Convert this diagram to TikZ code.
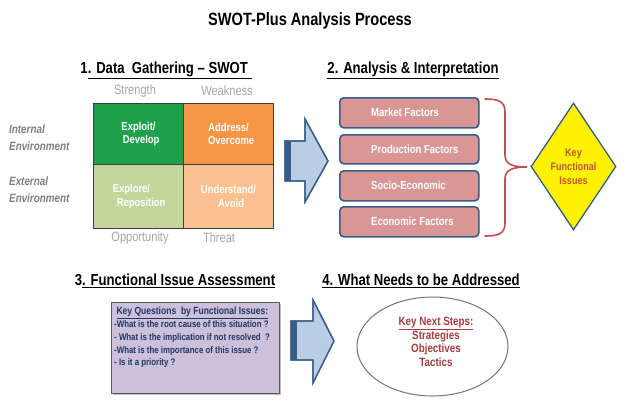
\documentclass[tikz,border=0pt]{standalone}
\usepackage{fontspec}
\setmainfont{Liberation Sans}
\newfontfamily\nar[FakeStretch=0.82]{Liberation Sans}
\usetikzlibrary{shapes.geometric}
\newcommand\myul[1]{\underline{#1}}
\definecolor{dkgreen}{HTML}{21A04B}
\definecolor{orng}{HTML}{F79646}
\definecolor{ltgreen}{HTML}{C3D69B}
\definecolor{ltorng}{HTML}{FAC090}
\definecolor{gridline}{HTML}{404040}
\definecolor{lblgray}{HTML}{A6A6A6}
\definecolor{envgray}{HTML}{7F7F7F}
\definecolor{pinkbox}{HTML}{D99694}
\definecolor{blueline}{HTML}{385D8A}
\definecolor{arrowfill}{HTML}{B9CDE5}
\definecolor{bracered}{HTML}{C0504D}
\definecolor{diamtext}{HTML}{C0572B}
\definecolor{purplebox}{HTML}{CCC0DA}
\definecolor{navy}{HTML}{1F3864}
\definecolor{nextred}{HTML}{A83C3C}
\tikzset{
  heading/.style={font=\nar\bfseries\fontsize{16}{18}\selectfont, text=black, inner sep=0pt},
  sidelbl/.style={font=\nar\fontsize{13.5}{15}\selectfont, text=lblgray, inner sep=0pt},
  envlbl/.style={font=\nar\bfseries\itshape\fontsize{12}{17}\selectfont, text=envgray, inner sep=0pt, align=left, anchor=west},
  cell/.style={draw=gridline, line width=1pt, anchor=north west, inner sep=0pt, text=white, align=center,
    font=\nar\bfseries\fontsize{11.5}{13.5}\selectfont},
  factor/.style={draw=blueline, line width=1.6pt, fill=pinkbox, rounded corners=4pt, anchor=north west,
    minimum width=139pt, inner sep=0pt},
  ftext/.style={font=\nar\bfseries\fontsize{11.6}{12}\selectfont, text=white, anchor=west, inner sep=0pt},
  bigarrow/.style={fill=arrowfill, draw=blueline, line width=1.3pt, line join=miter},
}
\begin{document}
\begin{tikzpicture}[x=1pt,y=-1pt]
\useasboundingbox (0,0) rectangle (626,416);
\fill[white] (0,0) rectangle (626,416);

% title
\node[font=\nar\bfseries\fontsize{17.8}{19}\selectfont, inner sep=0pt] (title) at (310,21) {SWOT-Plus Analysis Process};

% headings
\node[heading] (h1) at (166,70) {1\myul{. Data\ \ Gathering \textendash\ SWOT\ }};
\node[heading] (h2) at (413,70) {\myul{2. Analysis \& Interpretation}};
\node[heading] (h3) at (175,281) {3\myul{. Functional Issue Assessment}};
\node[heading] (h4) at (421,281) {\myul{4. What Needs to be Addressed}};

% SWOT labels
\node[sidelbl] (str) at (135,91) {Strength};
\node[sidelbl] (weak) at (227,91) {Weakness};
\node[sidelbl] (opp) at (140,238) {Opportunity};
\node[sidelbl] (thr) at (219,238) {Threat};

\node[envlbl] (intl) at (9,138) {Internal\\Environment};
\node[envlbl] (extl) at (9,190) {External\\Environment};

% SWOT grid
\node[cell, fill=dkgreen, minimum width=90pt, minimum height=61pt] (c11) at (93,103) {Exploit/\\\ \ Develop};
\node[cell, fill=orng, minimum width=90pt, minimum height=61pt] (c12) at (183,103) {Address/\\\ \ Overcome};
\node[cell, fill=ltgreen, minimum width=90pt, minimum height=64pt] (c21) at (93,164) {Explore/\hspace*{14pt}\\\ \ Reposition};
\node[cell, fill=ltorng, minimum width=90pt, minimum height=64pt] (c22) at (183,164) {Understand/\\\ \ Avoid};

% arrow 1
\path[bigarrow] (285,141) -- (305,141) -- (305,119) -- (328,161) -- (305,202) -- (305,181) -- (285,181) -- cycle;
\fill[blueline] (285,141) rectangle (290.5,181);
\draw[blueline, line width=1.3pt, line join=miter] (285,141) -- (305,141) -- (305,119) -- (328,161) -- (305,202) -- (305,181) -- (285,181) -- cycle;

% factor boxes
\node[factor, minimum height=30pt] (mf) at (339,97) {};
\node[factor, minimum height=29pt] (pf) at (339,134) {};
\node[factor, minimum height=30pt] (se) at (339,170) {};
\node[factor, minimum height=30pt] (ef) at (339,206) {};
\node[ftext] (mft) at ([xshift=32pt]mf.west) {Market Factors};
\node[ftext] (pft) at ([xshift=32pt]pf.west) {Production Factors};
\node[ftext] (set) at ([xshift=32pt]se.west) {Socio-Economic};
\node[ftext] (eft) at ([xshift=32pt]ef.west) {Economic Factors};

% brace
\coordinate (btop) at (485,99);
\coordinate (bmid) at (527,167);
\coordinate (bbot) at (485,236);
\draw[bracered, line width=1.6pt, line cap=round]
  (btop) .. controls (498,99) and (505,101) .. (505,112)
  -- (505,155) .. controls (505,164) and (512,167) .. (bmid)
  .. controls (512,167) and (505,170) .. (505,179)
  -- (505,223) .. controls (505,234) and (498,236) .. (bbot);

% diamond
\node[diamond, draw=blueline, line width=1.3pt, fill=yellow, minimum width=85pt, minimum height=127pt, inner sep=0pt] (kfi) at (573.5,166.5) {};
\node[font=\nar\bfseries\fontsize{11}{14}\selectfont, text=diamtext, align=center, inner sep=0pt] (kfit) at (kfi.center) {Key\\Functional\\Issues};

% purple box
\fill[black!25] (113,304) rectangle (281,395);
\node[draw=black!65, line width=1pt, fill=purplebox, anchor=north west, minimum width=168pt, minimum height=91pt, inner sep=0pt] (kq) at (111,302) {};
\node[font=\nar\bfseries\fontsize{9.6}{12.8}\selectfont, text=navy, align=left, anchor=north west, inner sep=0pt] (kqt) at (114,307)
  {{\fontsize{10.4}{12.8}\selectfont\ \myul{Key Questions\ \ by Functional Issues:}}\\
   -What is the root cause\ of this situation ?\\
   - What is the implication if not resolved\ \ ?\\
   -What\ is the importance\ of this issue ?\\
   - Is it a priority ?};

% arrow 2
\path[bigarrow] (291,321) -- (313,321) -- (313,300) -- (334,341) -- (313,383) -- (313,360) -- (291,360) -- cycle;
\fill[blueline] (291,321) rectangle (296.5,360);
\draw[blueline, line width=1.3pt, line join=miter] (291,321) -- (313,321) -- (313,300) -- (334,341) -- (313,383) -- (313,360) -- (291,360) -- cycle;

% ellipse
\node[ellipse, draw=black!55, line width=1pt, fill=white, minimum width=151pt, minimum height=99pt, inner sep=0pt] (nxt) at (432.5,346.5) {};
\node[font=\nar\bfseries\fontsize{12}{13.7}\selectfont, text=nextred, align=center, inner sep=0pt] (nxtt) at (436,342)
  {\myul{Key Next Steps:}\\Strategies\\Objectives\\Tactics};
\end{tikzpicture}
\end{document}
